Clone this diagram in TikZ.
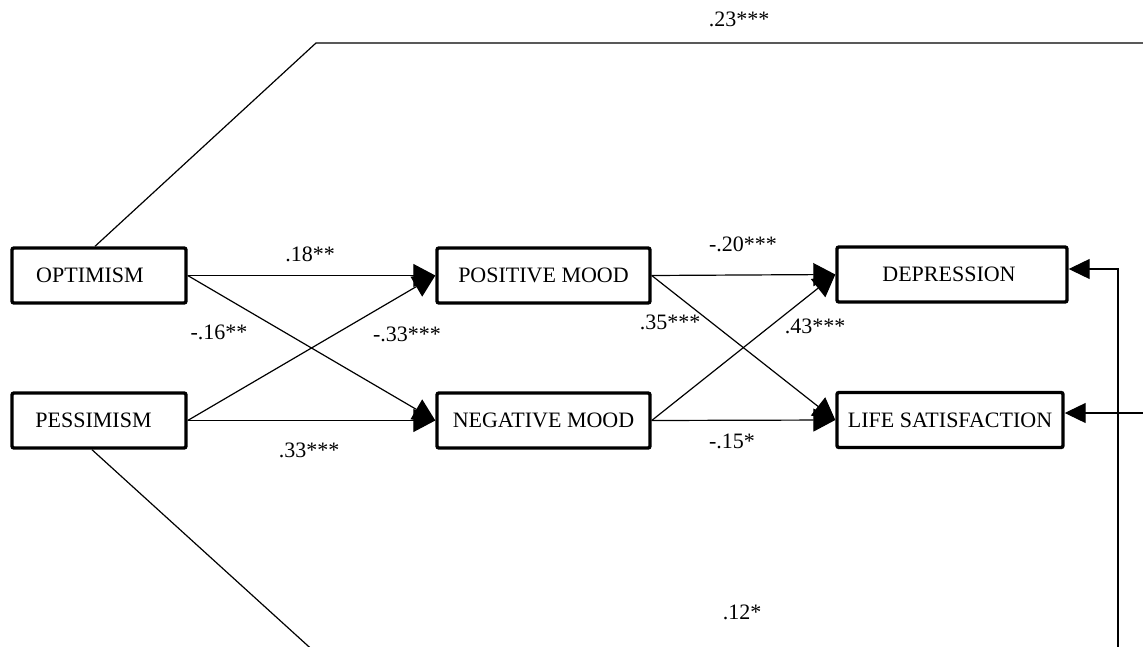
\documentclass[tikz,border=0pt]{standalone}
\usepackage{fontspec}
\setmainfont{Liberation Serif}
\usetikzlibrary{arrows.meta,calc}

\begin{document}
\begin{tikzpicture}[x=1pt,y=-1pt,
  varbox/.style={draw,line width=3.4pt,rounded corners=2pt,inner sep=0pt,
    minimum height=55pt,font=\fontsize{22}{26}\selectfont},
  coef/.style={inner sep=0pt,font=\fontsize{22}{26}\selectfont},
  path/.style={line width=1.2pt,-{Triangle[length=22pt,width=23pt]}},
  link/.style={line width=1.2pt},
  back/.style={line width=1.2pt,-{Triangle[length=21pt,width=20pt]}}]
\useasboundingbox (0,0) rectangle (1143,647);
\clip (0,0) rectangle (1143,647);

% predictors, mediators and outcomes
\node[varbox,minimum width=174pt] (opt) at (99,275.5) {OPTIMISM\kern18pt};
\node[varbox,minimum width=174pt] (pes) at (99,420.5) {PESSIMISM\kern11pt};
\node[varbox,minimum width=213pt] (pos) at (543.5,275.5) {POSITIVE MOOD};
\node[varbox,minimum width=213pt] (neg) at (543.5,420.5) {NEGATIVE MOOD};
\node[varbox,minimum width=230pt] (dep) at (952,274.5) {DEPRESSION\kern6pt};
\node[varbox,minimum width=226pt] (lif) at (950,420) {LIFE SATISFACTION};

% dispositions -> mood
\draw[path] (opt.east) -- (pos.west);
\draw[path] (opt.east) -- (neg.west);
\draw[path] (pes.east) -- (pos.west);
\draw[path] (pes.east) -- (neg.west);

% mood -> outcomes
\draw[path] (pos.east) -- (dep.west);
\draw[path] (pos.east) -- (lif.west);
\draw[path] (neg.east) -- (dep.west);
\draw[path] (neg.east) -- (lif.west);

% direct paths around the mediators
\coordinate (topbend) at (316,43);
\coordinate (topend) at (1150,43);
\draw[link] ([xshift=-4pt]opt.north) -- (topbend) -- (topend);

\coordinate (botend) at (318,655);
\draw[link] ([xshift=-7pt]pes.south) -- (botend);

\coordinate (rtop) at (1118,269);
\coordinate (rbot) at (1118,655);
\draw[link] (rbot) -- (rtop) -- (rtop -| 1090,0);
\draw[back] (rtop) -- (rtop -| dep.east);

\coordinate (rlif) at (1150,413);
\draw[back] (rlif) -- (rlif -| lif.east);

% path coefficients
\node[coef] (c23) at (739,19) {.23***};
\node[coef] (c18) at (310,254) {.18**};
\node[coef] (c16) at (219,332) {-.16**};
\node[coef] (c33n) at (407,334) {-.33***};
\node[coef] (c33) at (309,450) {.33***};
\node[coef] (c20) at (743,244) {-.20***};
\node[coef] (c35) at (670,322) {.35***};
\node[coef] (c43) at (815,326) {.43***};
\node[coef] (c15) at (732,441) {-.15*};
\node[coef] (c12) at (742,612) {.12*};
\end{tikzpicture}
\end{document}
